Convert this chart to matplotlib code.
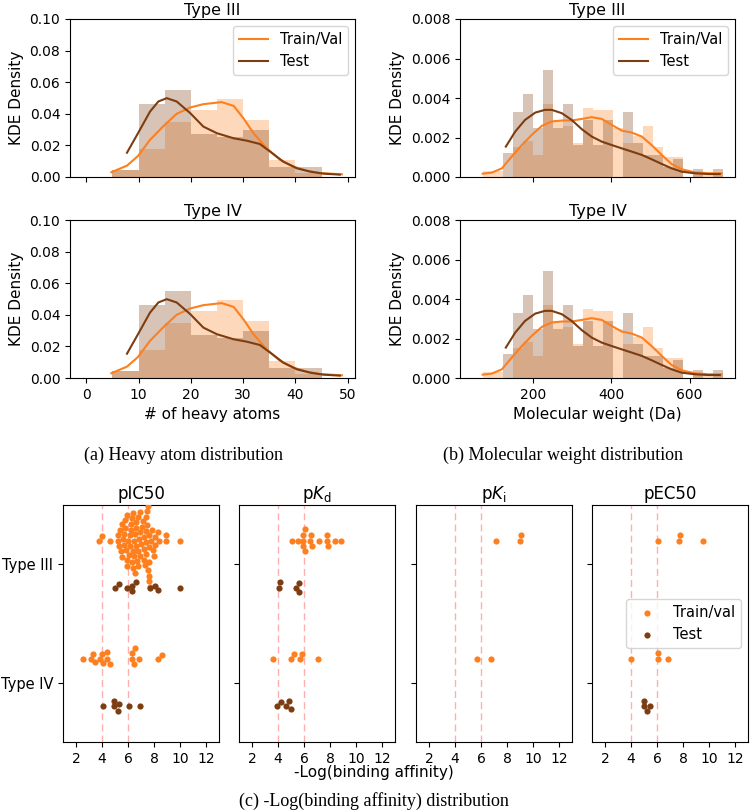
import numpy as np
import matplotlib
matplotlib.use('Agg')
import matplotlib.pyplot as plt

ORANGE = '#fd7f1e'
BROWN = '#7c3d12'

# ---- heavy atoms: histogram (density) + KDE ----
ha_edges = [5, 10, 15, 20, 25, 30, 35, 40, 45]
ha_train_hist = [0.0045, 0.0175, 0.035, 0.0425, 0.0495, 0.036, 0.0108, 0.0027]
ha_test_hist = [0.0045, 0.046, 0.055, 0.027, 0.0256, 0.030, 0.0066, 0.0066]
ha_train_kde_x = [4.8, 7.8, 9.9, 12.2, 14.8, 17.3, 19.9, 22.4, 25.9, 28.2, 30.1,
                  32.0, 34.5, 37.1, 39.6, 42.2, 44.7, 48.9]
ha_train_kde_y = [0.003, 0.0072, 0.0133, 0.0235, 0.0323, 0.040, 0.0440, 0.0461, 0.0474,
                  0.045, 0.037, 0.0277, 0.0182, 0.0108, 0.0066, 0.004, 0.0025, 0.0017]
ha_test_kde_x = [7.8, 9.9, 12.2, 13.8, 15.4, 17.3, 19.9, 22.4, 25.0, 28.2, 30.7,
                 33.2, 35.2, 37.7, 40.3, 42.8, 45.4, 48.5]
ha_test_kde_y = [0.0154, 0.0277, 0.0414, 0.0478, 0.0499, 0.0478, 0.0404, 0.0319, 0.0277,
                 0.0245, 0.023, 0.0209, 0.016, 0.0097, 0.0055, 0.0034, 0.0021, 0.0015]

# ---- molecular weight ----
mw_edges = np.linspace(72.6, 684.6, 25)
mw_train_hist = [0.0003, 0.0003, 0.0, 0.0015, 0.0018, 0.0011, 0.0037, 0.0029, 0.0026,
                 0.0017, 0.0035, 0.0034, 0.0034, 0.0025, 0.0017, 0.0021, 0.0026, 0.0015,
                 0.0010, 0.0010, 0.0, 0.0002, 0.0002, 0.0002]
mw_test_hist = [0.0, 0.0, 0.00123, 0.0033, 0.0042, 0.0025, 0.0054, 0.0025, 0.0037,
                0.0016, 0.0029, 0.0016, 0.0029, 0.0, 0.0033, 0.0017, 0.0011, 0.0011,
                0.0005, 0.0009, 0.0, 0.0004, 0.0, 0.0004]
mw_train_kde_x = [72, 95, 121, 146, 172, 197, 223, 248, 274, 299, 325, 350, 376, 401,
                  427, 452, 478, 503, 529, 554, 580, 613, 648, 682]
mw_train_kde_y = [0.00017, 0.00022, 0.00044, 0.00103, 0.00162, 0.00213, 0.00259, 0.00281,
                  0.00286, 0.00286, 0.00294, 0.00303, 0.00294, 0.00264, 0.00235, 0.00225,
                  0.00205, 0.00162, 0.00112, 0.00066, 0.00039, 0.00024, 0.00019, 0.00019]
mw_test_kde_x = [131, 155, 180, 206, 231, 248, 274, 299, 325, 350, 376, 401, 427, 452,
                 478, 503, 529, 554, 580, 613, 648, 677]
mw_test_kde_y = [0.00154, 0.0023, 0.00289, 0.00326, 0.0034, 0.0034, 0.00323, 0.00289,
                 0.00242, 0.00205, 0.00179, 0.00162, 0.00145, 0.00129, 0.00112, 0.0009,
                 0.00066, 0.00044, 0.00027, 0.00019, 0.00015, 0.00015]

# ---- binding affinity swarm data ----
affinity_types = ['pIC50', r'p$K_\mathrm{d}$', r'p$K_\mathrm{i}$', 'pEC50']
kinase_types = ['Type III', 'Type IV']
ic50_t3_train = [3.75, 4.0, 4.6,
                 5.2, 5.25, 5.3,
                 5.4, 5.45, 5.5, 5.55, 5.6,
                 5.7, 5.72, 5.75, 5.8, 5.85, 5.9, 5.92, 5.95, 6.0, 6.05,
                 6.15, 6.18, 6.2, 6.25, 6.28, 6.3, 6.35, 6.38, 6.4, 6.45, 6.48, 6.5, 6.55,
                 6.6, 6.62, 6.65, 6.7, 6.75, 6.78, 6.8, 6.85, 6.9, 6.92, 6.95, 7.0, 7.05,
                 7.15, 7.2, 7.22, 7.25, 7.3, 7.35, 7.38, 7.4, 7.42, 7.45, 7.48, 7.5, 7.52,
                 7.58, 7.6, 7.61, 7.62, 7.63, 7.64, 7.65, 7.68,
                 7.8, 7.85, 7.9, 8.0, 8.05, 8.1, 8.3, 8.4,
                 8.9, 8.9, 10.0]
ic50_t3_test = [4.97, 5.28, 5.95, 6.33, 6.33, 6.64, 7.67, 8.05, 8.3, 10.0]
ic50_t4_train = [2.51, 3.15, 3.31, 3.49, 3.82, 4.02, 4.08, 4.38, 4.41, 4.59, 6.28, 6.31,
                 6.46, 6.51, 6.82, 8.31, 8.62]
ic50_t4_test = [4.10, 4.95, 4.95, 5.23, 5.31, 6.10, 6.90]
kd_t3_train = [5.05, 5.5, 5.92, 5.92, 5.95, 6.05, 6.1, 6.45, 6.55, 6.6, 7.13, 7.8, 7.8,
               7.87, 8.35, 8.85]
kd_t3_test = [4.05, 4.15, 5.4, 5.65, 5.65]
kd_t4_train = [3.59, 5.0, 5.23, 5.72, 5.85, 7.05]
kd_t4_test = [3.95, 4.23, 4.62, 4.82, 5.0]
ki_t3_train = [7.15, 9.0, 9.05]
ki_t3_test = []
ki_t4_train = [5.69, 6.79]
ki_t4_test = []
ec50_t3_train = [6.05, 7.72, 7.78, 9.54]
ec50_t3_test = []
ec50_t4_train = [4.03, 6.08, 6.08, 6.82]
ec50_t4_test = [4.97, 5.03, 5.25, 5.49]
ref_lines = [4, 6]

swarm_data = [
    [(ic50_t3_train, ic50_t3_test), (ic50_t4_train, ic50_t4_test)],
    [(kd_t3_train, kd_t3_test), (kd_t4_train, kd_t4_test)],
    [(ki_t3_train, ki_t3_test), (ki_t4_train, ki_t4_test)],
    [(ec50_t3_train, ec50_t3_test), (ec50_t4_train, ec50_t4_test)],
]


def beeswarm(vals, d, sx):
    """seaborn-style swarm offsets (pixels) for values with x-scale sx px/unit"""
    vals = np.asarray(vals, dtype=float)
    order = np.argsort(vals, kind='stable')
    offs = np.zeros(len(vals))
    placed = []
    for idx in order:
        x = vals[idx] * sx
        nb = [(px, po) for px, po in placed if abs(x - px) < d]
        cands = [0.0]
        left = True
        for px, po in nb:
            dy = np.sqrt(max(d ** 2 - (x - px) ** 2, 0)) * 1.05
            cands += [po - dy, po + dy] if left else [po + dy, po - dy]
            left = not left
        cands = sorted(cands, key=abs)
        chosen = cands[-1]
        for c in cands:
            if all((x - px) ** 2 + (c - po) ** 2 >= 0.99 * d ** 2 for px, po in nb):
                chosen = c
                break
        placed.append((x, chosen))
        offs[idx] = chosen
    return offs


W, H = 750, 811
fig = plt.figure(figsize=(W / 100, H / 100), dpi=100)


def px_axes(left, top, right, bottom):
    return fig.add_axes([left / W, 1 - bottom / H, (right - left) / W, (bottom - top) / H])


# ---------------- top: KDE panels ----------------
top_rows = [(19, 177), (220, 378)]
for r, (t, b) in enumerate(top_rows):
    for c in range(2):
        if c == 0:
            ax = px_axes(70, t, 355, b)
            edges, trh, teh = ha_edges, ha_train_hist, ha_test_hist
            kx1, ky1, kx2, ky2 = ha_train_kde_x, ha_train_kde_y, ha_test_kde_x, ha_test_kde_y
        else:
            ax = px_axes(460, t, 735, b)
            edges, trh, teh = mw_edges, mw_train_hist, mw_test_hist
            kx1, ky1, kx2, ky2 = mw_train_kde_x, mw_train_kde_y, mw_test_kde_x, mw_test_kde_y
        e = np.asarray(edges, dtype=float)
        ax.bar(e[:-1], trh, width=np.diff(e), align='edge', color=ORANGE, alpha=0.3, lw=0)
        ax.bar(e[:-1], teh, width=np.diff(e), align='edge', color=BROWN, alpha=0.3, lw=0)
        ax.plot(kx1, ky1, color=ORANGE, lw=1.5, label='Train/Val')
        ax.plot(kx2, ky2, color=BROWN, lw=1.5, label='Test')
        ax.set_title(kinase_types[r], fontsize=11.5, pad=3)
        ax.set_ylabel('KDE Density', fontsize=11)
        ax.tick_params(labelsize=10)
        if c == 0:
            ax.set_xlim(-3.1, 51.4)
            ax.set_ylim(0, 0.10)
            ax.set_yticks(np.arange(0, 0.101, 0.02))
            ax.set_xticks(range(0, 51, 10))
            if r == 1:
                ax.set_xlabel('# of heavy atoms', fontsize=11)
        else:
            ax.set_xlim(14, 716)
            ax.set_ylim(0, 0.008)
            ax.set_yticks(np.arange(0, 0.0081, 0.002))
            ax.set_xticks([200, 400, 600])
            if r == 1:
                ax.set_xlabel('Molecular weight (Da)', fontsize=11)
        if r == 0:
            ax.tick_params(labelbottom=False)
            ax.legend(loc='upper right', fontsize=10.5)

cap_font = dict(family=['Liberation Serif', 'DejaVu Serif'], fontsize=13)
fig.text(183 / W, 1 - 455 / H, '(a) Heavy atom distribution', ha='center', va='center', **cap_font)
fig.text(563 / W, 1 - 455 / H, '(b) Molecular weight distribution', ha='center', va='center', **cap_font)
fig.text(374 / W, 1 - 801 / H, '(c) -Log(binding affinity) distribution', ha='center', va='center', **cap_font)

# ---------------- bottom: swarm panels ----------------
lefts = [63, 239, 416, 592]
dot_px = 5.4
dodge = 0.2
for i, lft in enumerate(lefts):
    ax = px_axes(lft, 505, lft + 156, 742)
    ax.set_xlim(1, 13)
    ax.set_ylim(1.5, -0.5)
    sx = abs(ax.transData.transform((1, 0))[0] - ax.transData.transform((0, 0))[0])
    sy = abs(ax.transData.transform((0, 1))[1] - ax.transData.transform((0, 0))[1])
    for v in ref_lines:
        ax.axvline(v, color='#ff9a9a', lw=1, ls=(0, (5, 3)), alpha=0.8, zorder=0)
    for k, (trv, tst) in enumerate(swarm_data[i]):
        for vals, off, col, lab in ((trv, -dodge, ORANGE, 'Train/val'), (tst, dodge, BROWN, 'Test')):
            if len(vals) == 0:
                continue
            o = beeswarm(vals, dot_px, sx) / sy
            ax.scatter(vals, k + off + o, s=(6.2 * 0.72) ** 2, color=col, lw=0,
                       label=lab if k == 1 else None, zorder=3)
    ax.set_yticks([0, 1])
    ax.set_xticks([2, 4, 6, 8, 10, 12])
    ax.tick_params(axis='x', labelsize=10)
    if i == 0:
        ax.set_yticklabels(kinase_types, fontsize=10.5)
    else:
        ax.set_yticklabels([])
    ax.set_title(affinity_types[i], fontsize=12, pad=4)
    if i == 3:
        ax.legend(loc='center right', fontsize=10.5, markerscale=1.0)

fig.text(374 / W, 1 - 772 / H, '-Log(binding affinity)', ha='center', va='center', fontsize=11)

fig.savefig('out.png', dpi=100)
